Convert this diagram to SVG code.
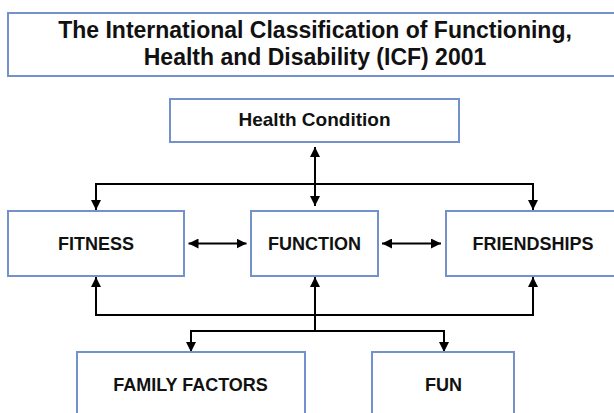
<svg xmlns="http://www.w3.org/2000/svg" width="614" height="413" viewBox="0 0 614 413">
<style>
.box{fill:#ffffff;stroke:#7391cb;stroke-width:2}
.t{font-family:"Liberation Sans",Arial,sans-serif;font-weight:bold;fill:#111111;text-anchor:middle}
.lbl{font-size:18px}
.ttl{font-size:23px}
.c{fill:none;stroke:#000000;stroke-width:2}
</style>
<defs>
<marker id="ah" markerUnits="userSpaceOnUse" markerWidth="10" markerHeight="10" refX="10" refY="5" orient="auto-start-reverse" viewBox="0 0 10 10">
<path d="M0,0 L10,5 L0,10 z" fill="#000000"/>
</marker>
</defs>
<rect width="614" height="413" fill="#ffffff"/>
<g id="title">
<rect class="box" x="8" y="13" width="614" height="63"/>
<text class="t ttl" x="315" y="38">The International Classification of Functioning,</text>
<text class="t ttl" x="315" y="65">Health and Disability (ICF) 2001</text>
</g>
<g id="connectors">
<path class="c" d="M315,147 V206" marker-start="url(#ah)" marker-end="url(#ah)"/>
<path class="c" d="M96,210 V184 H533 V210" marker-start="url(#ah)" marker-end="url(#ah)"/>
<path class="c" d="M188.5,243.5 H246.5" marker-start="url(#ah)" marker-end="url(#ah)"/>
<path class="c" d="M382,243.5 H441" marker-start="url(#ah)" marker-end="url(#ah)"/>
<path class="c" d="M96,277 V315 H533 V277" marker-start="url(#ah)" marker-end="url(#ah)"/>
<path class="c" d="M315,331 V277" marker-end="url(#ah)"/>
<path class="c" d="M191,352 V331 H444 V352" marker-start="url(#ah)" marker-end="url(#ah)"/>
</g>
<g id="health-condition">
<rect class="box" x="170" y="99" width="289" height="43"/>
<text class="t" x="314.5" y="126" font-size="19px">Health Condition</text>
</g>
<g id="fitness">
<rect class="box" x="8" y="211" width="176" height="65"/>
<text class="t lbl" x="96" y="250">FITNESS</text>
</g>
<g id="function">
<rect class="box" x="251" y="211" width="127" height="65"/>
<text class="t lbl" x="314.5" y="250">FUNCTION</text>
</g>
<g id="friendships">
<rect class="box" x="446" y="211" width="176" height="65"/>
<text class="t lbl" x="533" y="250">FRIENDSHIPS</text>
</g>
<g id="family-factors">
<rect class="box" x="77" y="352" width="228" height="70"/>
<text class="t lbl" x="190.5" y="391">FAMILY FACTORS</text>
</g>
<g id="fun">
<rect class="box" x="372" y="352" width="142" height="70"/>
<text class="t lbl" x="443.5" y="391">FUN</text>
</g>
</svg>
